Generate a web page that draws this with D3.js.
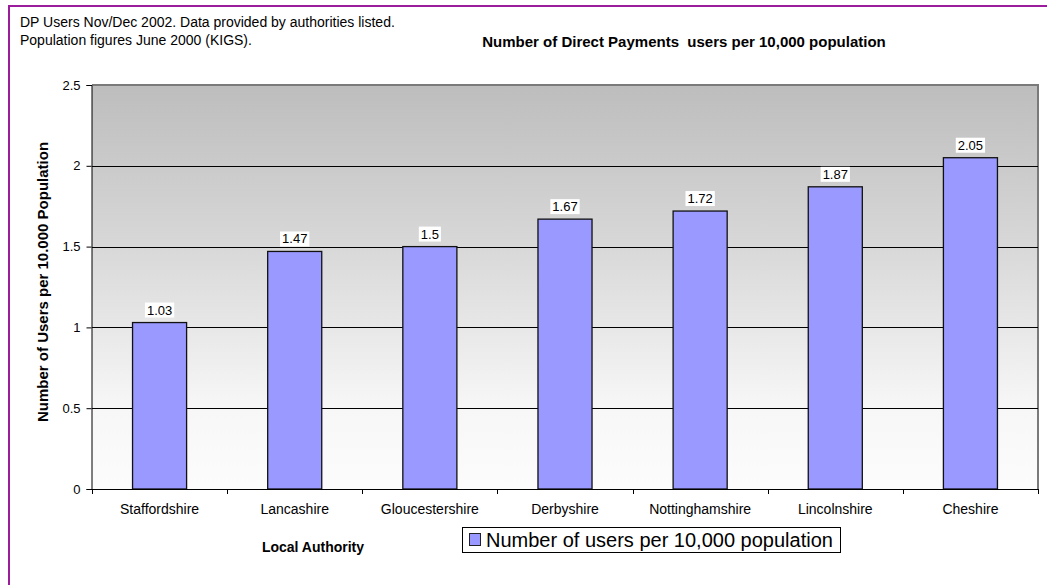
<!DOCTYPE html>
<html>
<head>
<meta charset="utf-8">
<script src="https://cdn.jsdelivr.net/npm/d3@7"></script>
<style>
  html, body { margin: 0; padding: 0; background: #ffffff; }
  svg { display: block; font-family: "Liberation Sans", Arial, sans-serif; }
</style>
</head>
<body>
<svg id="chart" width="1047" height="585"></svg>
<script>
// Local authorities and their Direct Payments users per 10,000 population
const categories = ["Staffordshire", "Lancashire", "Gloucestershire", "Derbyshire", "Nottinghamshire", "Lincolnshire", "Cheshire"];
const usersPer10k = [1.03, 1.47, 1.5, 1.67, 1.72, 1.87, 2.05];
const yTicks = [0, 0.5, 1, 1.5, 2, 2.5];
const yTickLabels = ["0", "0.5", "1", "1.5", "2", "2.5"];
const seriesName = "Number of users per 10,000 population";
const chartTitle = "Number of Direct Payments  users per 10,000 population";
const sourceNote = ["DP Users Nov/Dec 2002. Data provided by authorities listed.", "Population figures June 2000 (KIGS)."];
const yTitle = "Number of Users per 10.000 Population";
const xTitle = "Local Authority";

const svg = d3.select("#chart");
const plot = { left: 92, right: 1038, top: 85, bottom: 489 };
const barColor = "#9999ff";

// Outer frame
svg.append("rect")
  .attr("x", 9).attr("y", 6).attr("width", 1100).attr("height", 700)
  .attr("fill", "none").attr("stroke", "#9b1d9b").attr("stroke-width", 2);

// Plot background gradient
const defs = svg.append("defs");
const grad = defs.append("linearGradient").attr("id", "plotBg")
  .attr("x1", 0).attr("y1", 0).attr("x2", 0).attr("y2", 1);
grad.append("stop").attr("offset", "0%").attr("stop-color", "#bdbdbd");
grad.append("stop").attr("offset", "40%").attr("stop-color", "#d8d8d8");
grad.append("stop").attr("offset", "80%").attr("stop-color", "#f7f7f7");
grad.append("stop").attr("offset", "100%").attr("stop-color", "#fcfcfc");

const y = d3.scaleLinear().domain([0, 2.5]).range([plot.bottom, plot.top]);
const pad = 0.6;
const x = d3.scaleBand().domain(categories).range([plot.left, plot.right])
  .paddingInner(pad).paddingOuter(pad / 2);

svg.append("rect")
  .attr("x", plot.left).attr("y", plot.top)
  .attr("width", plot.right - plot.left).attr("height", plot.bottom - plot.top)
  .attr("fill", "url(#plotBg)");

// Plot border: grey top and right edges
svg.append("path")
  .attr("d", `M${plot.left},${plot.top}H${plot.right}V${plot.bottom}`)
  .attr("fill", "none").attr("stroke", "#7a7a7a").attr("stroke-width", 2);

// Horizontal gridlines
svg.append("g").selectAll("line")
  .data(yTicks.filter(v => v > 0 && v < 2.5))
  .join("line")
  .attr("x1", plot.left).attr("x2", plot.right)
  .attr("y1", d => Math.round(y(d)) + 0.5).attr("y2", d => Math.round(y(d)) + 0.5)
  .attr("stroke", "#000").attr("stroke-width", 1);

// Y axis
const yAxis = d3.axisLeft(y).tickValues(yTicks)
  .tickFormat((d, i) => yTickLabels[i]).tickSize(5).tickPadding(6);
const gy = svg.append("g").attr("transform", `translate(${plot.left - 0.5},0)`).call(yAxis);
gy.select(".domain").attr("stroke", "#000");
gy.selectAll(".tick line").attr("stroke", "#000");
gy.selectAll("text").attr("font-size", 13).attr("fill", "#000")
  .attr("font-family", "'Liberation Sans', Arial, sans-serif");

// Bars
svg.append("g").selectAll("rect")
  .data(categories)
  .join("rect")
  .attr("x", d => x(d))
  .attr("y", (d, i) => y(usersPer10k[i]))
  .attr("width", x.bandwidth())
  .attr("height", (d, i) => y(0) - y(usersPer10k[i]))
  .attr("fill", barColor)
  .attr("stroke", "#111").attr("stroke-width", 1.3);

// X axis: labels at band centres, ticks at band boundaries
const xAxis = d3.axisBottom(x).tickSize(0).tickPadding(15);
const gx = svg.append("g").attr("transform", `translate(0,${plot.bottom})`).call(xAxis);
gx.select(".domain").remove();
gx.selectAll("text").attr("font-size", 14).attr("fill", "#000")
  .attr("font-family", "'Liberation Sans', Arial, sans-serif");

const boundaries = categories.map(c => x(c) - x.step() * pad / 2).concat([plot.right]);
svg.append("line")
  .attr("x1", plot.left).attr("x2", plot.right)
  .attr("y1", plot.bottom + 0.5).attr("y2", plot.bottom + 0.5)
  .attr("stroke", "#000");
svg.append("g").selectAll("line")
  .data(boundaries)
  .join("line")
  .attr("x1", d => Math.round(d) + 0.5).attr("x2", d => Math.round(d) + 0.5)
  .attr("y1", plot.bottom).attr("y2", plot.bottom + 5)
  .attr("stroke", "#000");

// Value labels with white backing
const labels = svg.append("g").selectAll("g")
  .data(categories)
  .join("g")
  .attr("transform", (d, i) => `translate(${x(d) + x.bandwidth() / 2},${y(usersPer10k[i]) - 8})`);
labels.append("text")
  .attr("text-anchor", "middle")
  .attr("font-size", 13)
  .attr("fill", "#000")
  .text((d, i) => usersPer10k[i]);
labels.each(function () {
  const g = d3.select(this);
  const bb = g.select("text").node().getBBox();
  g.insert("rect", "text")
    .attr("x", bb.x - 2).attr("y", bb.y)
    .attr("width", bb.width + 4).attr("height", bb.height)
    .attr("fill", "#fff");
});

// Titles
svg.append("text")
  .attr("x", 684).attr("y", 47)
  .attr("text-anchor", "middle").attr("font-size", 15).attr("font-weight", "bold")
  .style("white-space", "pre")
  .text(chartTitle);

svg.append("g").selectAll("text")
  .data(sourceNote)
  .join("text")
  .attr("x", 20).attr("y", (d, i) => 27 + i * 18)
  .attr("font-size", 14)
  .text(d => d);

svg.append("text")
  .attr("transform", "translate(48,282) rotate(-90)")
  .attr("text-anchor", "middle").attr("font-size", 15).attr("font-weight", "bold")
  .text(yTitle);

svg.append("text")
  .attr("x", 313).attr("y", 552)
  .attr("text-anchor", "middle").attr("font-size", 14).attr("font-weight", "bold")
  .text(xTitle);

// Legend
const legend = svg.append("g").attr("transform", "translate(462,527)");
legend.append("rect")
  .attr("x", 0.5).attr("y", 0.5).attr("width", 378).attr("height", 25)
  .attr("fill", "#fff").attr("stroke", "#000");
legend.append("rect")
  .attr("x", 7.5).attr("y", 6.5).attr("width", 11).attr("height", 12)
  .attr("fill", barColor).attr("stroke", "#222");
legend.append("text")
  .attr("x", 24).attr("y", 19.5)
  .attr("font-size", 20)
  .text(seriesName);
</script>
</body>
</html>
